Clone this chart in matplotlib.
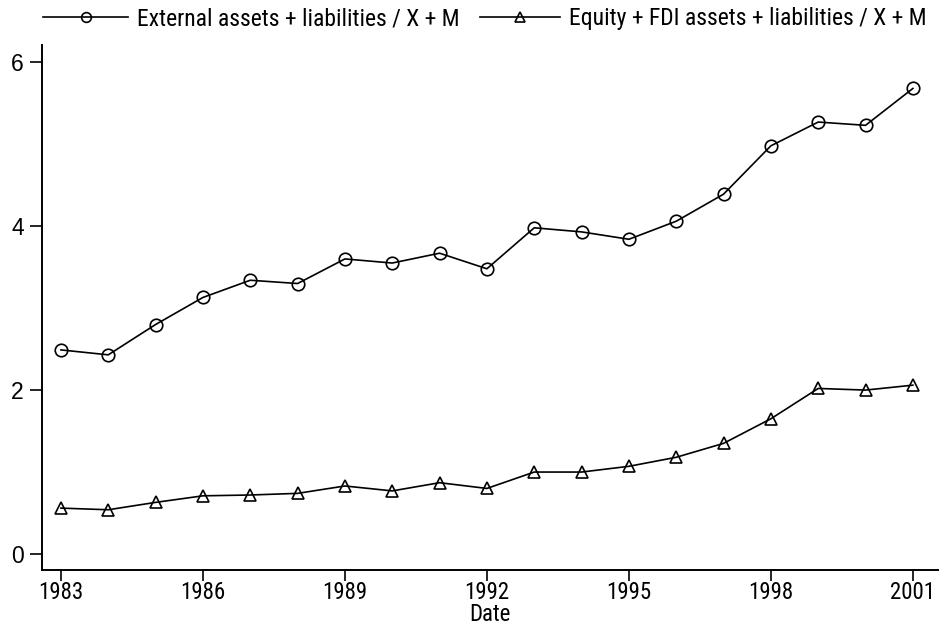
import matplotlib
matplotlib.use("Agg")
import matplotlib.pyplot as plt
from matplotlib import font_manager as fm
from matplotlib.lines import Line2D

years = list(range(1983, 2002))
external = [2.49, 2.43, 2.80, 3.13, 3.34, 3.30, 3.60, 3.55, 3.67, 3.48,
            3.98, 3.93, 3.84, 4.06, 4.39, 4.98, 5.27, 5.23, 5.68]
equity_fdi = [0.56, 0.54, 0.63, 0.71, 0.72, 0.74, 0.83, 0.77, 0.87, 0.80,
              1.00, 1.00, 1.07, 1.18, 1.35, 1.65, 2.02, 2.00, 2.06]
xticks = [1983, 1986, 1989, 1992, 1995, 1998, 2001]
yticks = [0, 2, 4, 6]
labels = ["External assets + liabilities / X + M",
          "Equity + FDI assets + liabilities / X + M"]


def find_condensed():
    prefs = ["Liberation Sans Narrow", "Roboto Condensed", "Open Sans Condensed",
             "Noto Sans Condensed", "DejaVu Sans Condensed", "Arial Narrow"]
    cands = []
    for f in fm.fontManager.ttflist:
        low = f.fname.lower()
        if f.style != "normal" or "mono" in low:
            continue
        if f.weight not in (400, "normal", "regular"):
            continue
        st = str(f.stretch)
        if ("narrow" in low or "condensed" in low or "narrow" in f.name.lower()
                or "condensed" in f.name.lower() or st in ("condensed", "semi-condensed")):
            cands.append(f)
    norm = lambda s: s.lower().replace(" ", "").replace("-", "").replace("_", "")
    for p in prefs:
        for f in cands:
            if norm(p) in norm(f.name + f.fname):
                return f.fname
    for f in cands:
        if "extra" not in f.fname.lower() and "semi" not in f.fname.lower():
            return f.fname
    return None


cfile = find_condensed()
if cfile:
    def narrow(size):
        return fm.FontProperties(fname=cfile, size=size)
    nsize = 17
    tsize = 16.5
else:
    def narrow(size):
        return fm.FontProperties(family="Liberation Sans", size=size)
    nsize = 15
    tsize = 15
regular = fm.FontProperties(family="Liberation Sans", size=16.5)

fig = plt.figure(figsize=(9.44, 6.25), dpi=100)
ax = fig.add_axes([0.0445, 0.088, 0.9491, 0.84])

mk = dict(color="black", lw=1.2, markersize=9, markerfacecolor="none",
          markeredgecolor="black", markeredgewidth=1.2)
ax.plot(years, external, marker="o", **mk)
ax.plot(years, equity_fdi, marker="^", **mk)

ax.set_xlim(1982.6, 2001.53)
ax.set_ylim(-0.195, 6.21)
ax.set_xticks(xticks)
ax.set_yticks(yticks)
ax.set_xticklabels([str(t) for t in xticks], fontproperties=narrow(tsize))
ax.set_yticklabels([str(t) for t in yticks], fontproperties=regular)
ax.tick_params(axis="x", length=8, width=1.2, color="black", pad=0)
ax.tick_params(axis="y", length=9, width=1.2, color="black", pad=4)
for s in ["top", "right"]:
    ax.spines[s].set_visible(False)
for s in ["left", "bottom"]:
    ax.spines[s].set_linewidth(1.4)
ax.set_xlabel("Date", fontproperties=narrow(tsize), labelpad=-1)

lmk = dict(mk, markersize=7)
leg_pos = [43 / 944, 480 / 944]
hl_px = [85, 80]
for i, (m, lab) in enumerate(zip(["o", "^"], labels)):
    fig.legend([Line2D([], [], marker=m, **lmk)], [lab], loc="center left",
               bbox_to_anchor=(leg_pos[i], 1 - 19 / 625), frameon=False,
               borderpad=0, borderaxespad=0, handlelength=hl_px[i] * 0.72 / nsize,
               handletextpad=0.4, prop=narrow(nsize))

fig.savefig("out.png", dpi=100)
